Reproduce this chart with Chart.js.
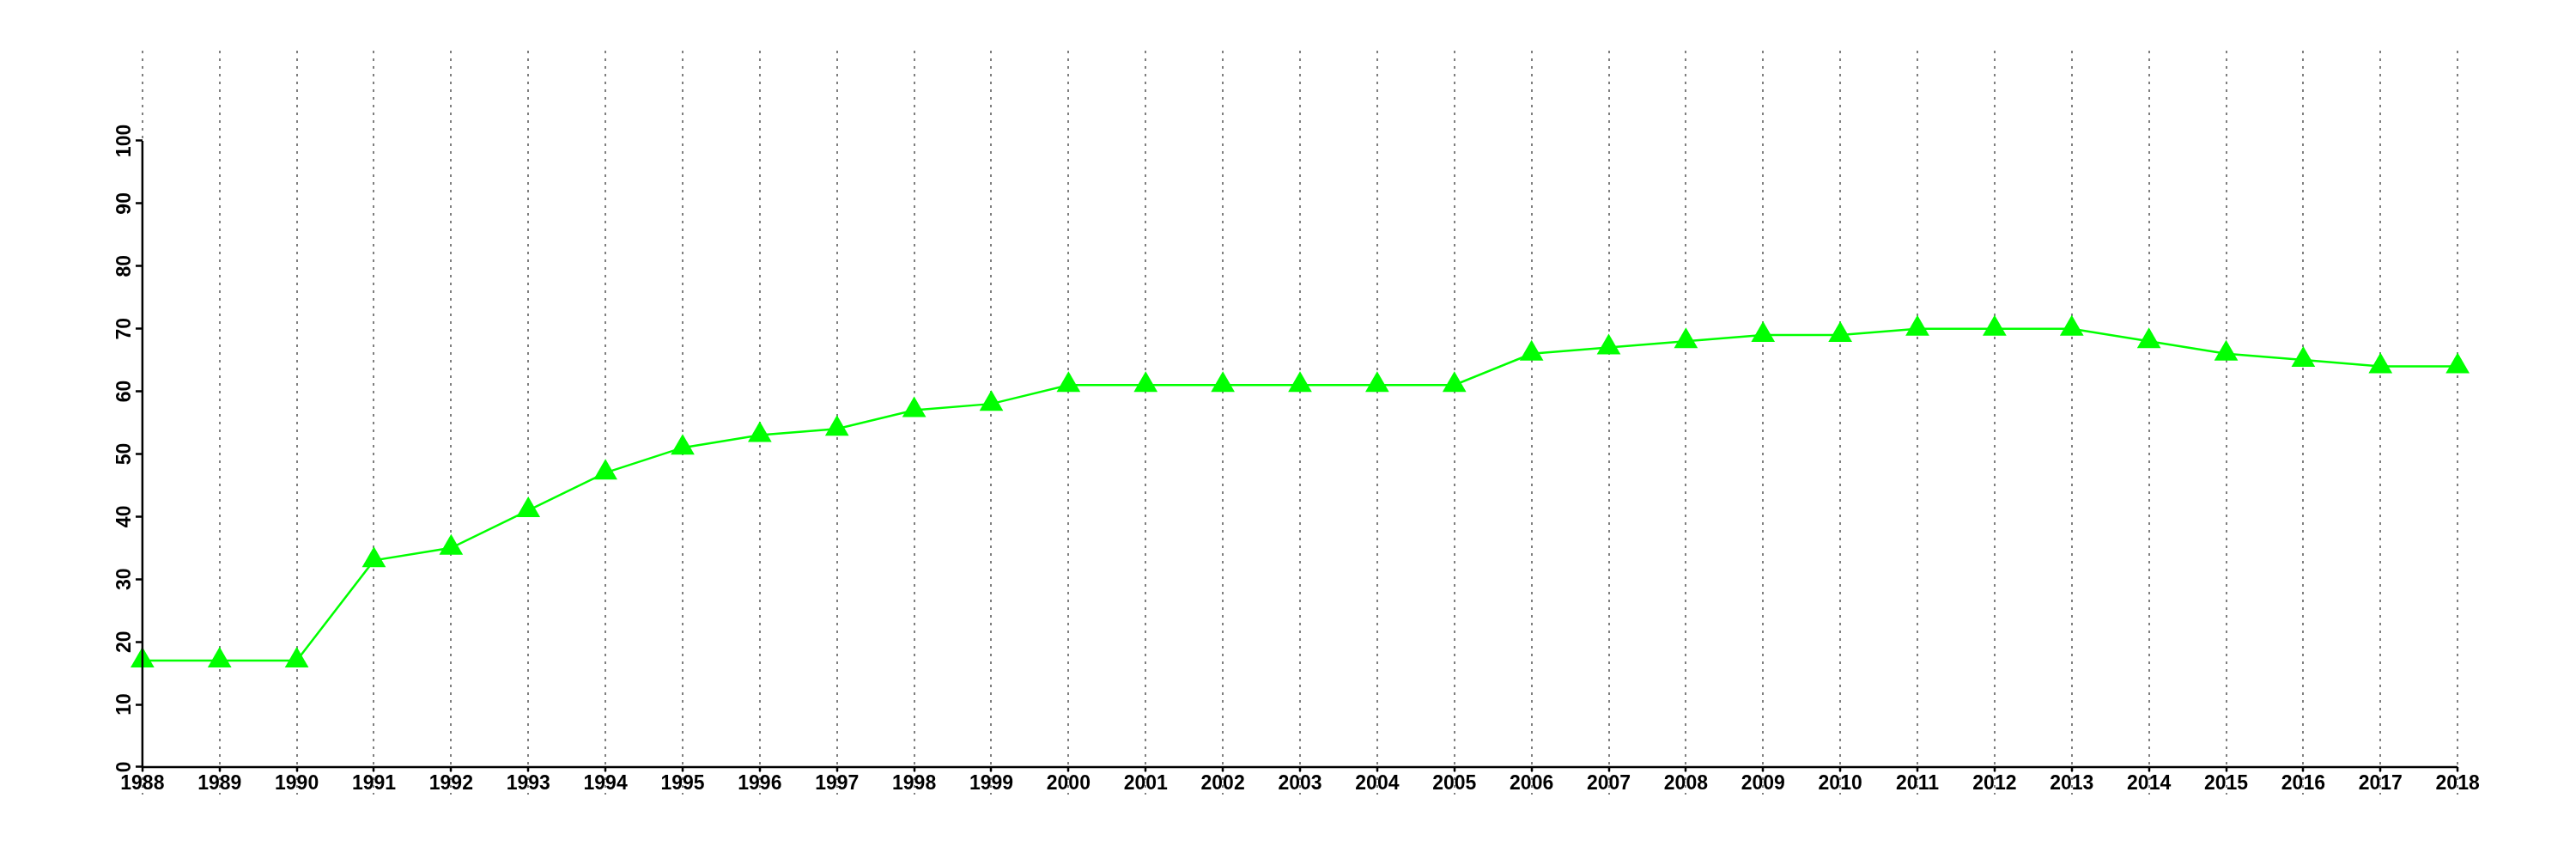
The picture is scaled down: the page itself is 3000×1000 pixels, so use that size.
<!DOCTYPE html>
<html>
<head>
<meta charset="utf-8">
<script src="https://cdn.jsdelivr.net/npm/chart.js@4.4.1/dist/chart.umd.min.js"></script>
<style>
    body { margin: 0; background: white; }
    #wrap { width: 3000px; height: 1000px; }
</style>
</head>
<body>
<div id="wrap"><canvas id="chart" width="3000" height="1000"></canvas></div>
<script>
// data
var years = [1988, 1989, 1990, 1991, 1992, 1993, 1994, 1995, 1996, 1997, 1998, 1999, 2000, 2001, 2002,
             2003, 2004, 2005, 2006, 2007, 2008, 2009, 2010, 2011, 2012, 2013, 2014, 2015, 2016, 2017, 2018];
var values = [17, 17, 17, 33, 35, 41, 47, 51, 53, 54, 57, 58, 61, 61, 61,
              61, 61, 61, 66, 67, 68, 69, 69, 70, 70, 70, 68, 66, 65, 64, 64];
var yTicks = [0, 10, 20, 30, 40, 50, 60, 70, 80, 90, 100];

var FONT = '"Liberation Sans", Arial, Helvetica, sans-serif';

var points = [];
for (var i = 0; i < years.length; i++) {
    points.push({x: years[i], y: values[i]});
}

// R style axes: line only spans first..last tick, y labels rotated
const rAxes = {
    id: 'r_axes',
    afterDraw: (chart) => {
        const ctx = chart.ctx;
        const xs = chart.scales.x;
        const ys = chart.scales.y;
        const x0 = xs.getPixelForValue(years[0]);
        const y0 = ys.getPixelForValue(0);
        ctx.save();
        ctx.strokeStyle = 'black';
        ctx.lineWidth = 2.5;
        ctx.beginPath();
        ctx.moveTo(xs.getPixelForValue(years[0]), y0);
        ctx.lineTo(xs.getPixelForValue(years[years.length - 1]), y0);
        ctx.moveTo(x0, ys.getPixelForValue(yTicks[0]));
        ctx.lineTo(x0, ys.getPixelForValue(yTicks[yTicks.length - 1]));
        ctx.stroke();

        ctx.fillStyle = 'black';
        ctx.font = 'bold 23px ' + FONT;
        ctx.textAlign = 'center';
        ctx.textBaseline = 'alphabetic';
        yTicks.forEach(function (t) {
            ctx.save();
            ctx.translate(x0 - 14, ys.getPixelForValue(t));
            ctx.rotate(-Math.PI / 2);
            ctx.fillText(String(t), 0, 0);
            ctx.restore();
        });
        ctx.restore();
    }
};

var ctx = document.getElementById('chart').getContext('2d');
var myChart = new Chart(ctx, {
    type: 'line',
    data: {
        datasets: [{
            data: points,
            borderColor: '#00ff00',
            backgroundColor: '#00ff00',
            borderWidth: 2.5,
            pointStyle: 'triangle',
            pointRadius: 16,
            pointBorderWidth: 0,
            pointBackgroundColor: '#00ff00',
            tension: 0
        }]
    },
    options: {
        responsive: false,
        animation: false,
        layout: {
            padding: {left: 58, right: 30, top: 59, bottom: 75}
        },
        scales: {
            x: {
                type: 'linear',
                min: 1986.8,
                max: 2019.2,
                position: {y: 0},
                afterBuildTicks: (scale) => {
                    scale.ticks = years.map(v => ({value: v}));
                },
                grid: {
                    display: true,
                    drawOnChartArea: true,
                    color: '#7f7f7f',
                    lineWidth: 2,
                    drawTicks: true,
                    tickLength: 5,
                    tickColor: 'black',
                    tickWidth: 2.5,
                    tickBorderDash: []
                },
                // v4 keeps the grid line dash under border
                border: {display: false, dash: [3, 6]},
                ticks: {
                    color: 'black',
                    padding: 1,
                    maxRotation: 0,
                    autoSkip: false,
                    font: {family: FONT, size: 23, weight: 'bold'},
                    callback: (v) => String(v)
                }
            },
            y: {
                type: 'linear',
                min: -4.4,
                max: 114.4,
                position: {x: 1988},
                afterBuildTicks: (scale) => {
                    scale.ticks = yTicks.map(v => ({value: v}));
                },
                grid: {
                    display: true,
                    drawOnChartArea: false,
                    drawTicks: true,
                    tickLength: 8,
                    tickColor: 'black',
                    tickWidth: 2.5
                },
                border: {display: false},
                ticks: {display: false}
            }
        },
        plugins: {
            legend: {display: false},
            tooltip: {enabled: false}
        }
    },
    plugins: [rAxes]
});
</script>
</body>
</html>
